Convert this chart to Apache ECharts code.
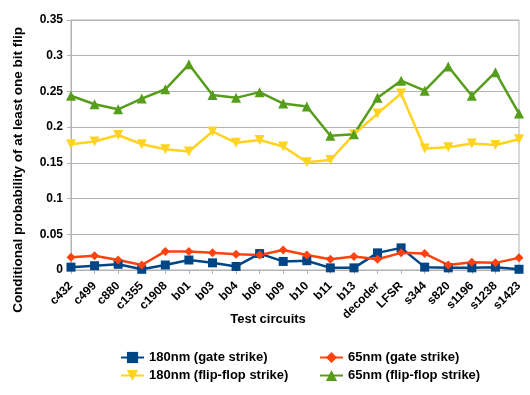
<!DOCTYPE html>
<html>
<head>
<meta charset="utf-8">
<script src="https://cdn.jsdelivr.net/npm/echarts@6/dist/echarts.min.js"></script>
<style>
  html, body { margin: 0; padding: 0; background: #fff; }
  #lineChart { width: 530px; height: 395px; }
</style>
</head>
<body>
<div id="lineChart"></div>
<script>
const circuits = ['c432', 'c499', 'c880', 'c1355', 'c1908', 'b01', 'b03', 'b04', 'b06', 'b09',
  'b10', 'b11', 'b13', 'decoder', 'LFSR', 's344', 's820', 's1196', 's1238', 's1423']

const gate180 = [0.004, 0.006, 0.008, 0.001, 0.007, 0.014, 0.010, 0.005, 0.023, 0.012,
  0.013, 0.003, 0.003, 0.024, 0.031, 0.004, 0.003, 0.003, 0.004, 0.001]
const gate65 = [0.018, 0.020, 0.014, 0.007, 0.026, 0.026, 0.024, 0.022, 0.021, 0.028,
  0.021, 0.015, 0.019, 0.015, 0.024, 0.023, 0.007, 0.011, 0.010, 0.017]
const ff180 = [0.176, 0.180, 0.189, 0.176, 0.169, 0.166, 0.194, 0.178, 0.182, 0.173,
  0.151, 0.154, 0.190, 0.219, 0.247, 0.170, 0.172, 0.177, 0.175, 0.183]
const ff65 = [0.244, 0.232, 0.225, 0.240, 0.253, 0.288, 0.245, 0.241, 0.249, 0.233,
  0.229, 0.188, 0.190, 0.241, 0.265, 0.251, 0.285, 0.244, 0.277, 0.219]

const font = 'Liberation Sans, Arial, sans-serif'
const gridColor = '#b3b3b3'

const myChart = echarts.init(document.getElementById('lineChart'))

const makeSeries = (name, data, color, symbol, size, rotate) => ({
  name: name,
  type: 'line',
  data: data,
  symbol: symbol,
  symbolSize: size,
  symbolRotate: rotate || 0,
  itemStyle: { color: color },
  lineStyle: { width: 2.5, color: color },
  animation: false
})

const legendText = { fontFamily: font, fontWeight: 'bold', fontSize: 13, color: '#000' }

const option = {
  textStyle: { fontFamily: font },
  grid: {
    left: 71,
    right: 11,
    top: 20,
    bottom: 125,
    show: true,
    borderColor: gridColor,
    borderWidth: 1
  },
  legend: [
    {
      data: ['180nm (gate strike)', '180nm (flip-flop strike)'],
      orient: 'vertical',
      left: 120,
      top: 351,
      padding: 0,
      itemWidth: 23,
      itemHeight: 14,
      itemGap: 5,
      textStyle: legendText
    },
    {
      data: ['65nm (gate strike)', '65nm (flip-flop strike)'],
      orient: 'vertical',
      left: 319,
      top: 351,
      padding: 0,
      itemWidth: 23,
      itemHeight: 14,
      itemGap: 5,
      textStyle: legendText
    }
  ],
  xAxis: {
    type: 'category',
    data: circuits,
    boundaryGap: false,
    axisLine: { lineStyle: { color: gridColor } },
    axisTick: { show: true, length: 4, lineStyle: { color: gridColor } },
    axisLabel: {
      rotate: 45,
      interval: 0,
      margin: 14,
      fontFamily: font,
      fontWeight: 'bold',
      fontSize: 12,
      color: '#000'
    }
  },
  yAxis: {
    type: 'value',
    min: 0,
    max: 0.35,
    interval: 0.05,
    axisLine: { show: true, lineStyle: { color: gridColor } },
    axisTick: { show: true, length: 4, lineStyle: { color: gridColor } },
    splitLine: { lineStyle: { color: gridColor } },
    axisLabel: {
      margin: 8,
      fontFamily: font,
      fontWeight: 'bold',
      fontSize: 12,
      color: '#000'
    }
  },
  graphic: [
    {
      type: 'text',
      x: 18,
      y: 170,
      rotation: Math.PI / 2,
      style: {
        text: 'Conditional probability of at least one bit flip',
        fontFamily: font,
        fontWeight: 'bold',
        fontSize: 13.5,
        fill: '#000',
        align: 'center',
        verticalAlign: 'middle'
      }
    },
    {
      type: 'text',
      x: 268,
      y: 319,
      style: {
        text: 'Test circuits',
        fontFamily: font,
        fontWeight: 'bold',
        fontSize: 13,
        fill: '#000',
        align: 'center',
        verticalAlign: 'middle'
      }
    }
  ],
  series: [
    makeSeries('180nm (gate strike)', gate180, '#004586', 'rect', 9),
    makeSeries('65nm (gate strike)', gate65, '#ff420e', 'diamond', 9),
    makeSeries('180nm (flip-flop strike)', ff180, '#ffd320', 'triangle', 10, 180),
    makeSeries('65nm (flip-flop strike)', ff65, '#579d1c', 'triangle', 10)
  ]
}

option && myChart.setOption(option)
</script>
</body>
</html>
